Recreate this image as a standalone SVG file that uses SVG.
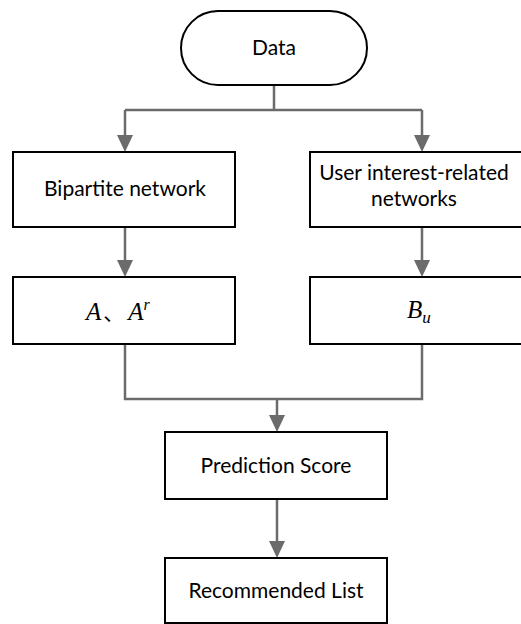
<svg xmlns="http://www.w3.org/2000/svg" width="521" height="624" viewBox="0 0 521 624">
<defs>
<style>
.box{fill:#fff;stroke:#000;stroke-width:2}
.lbl{font-family:Lato,"Liberation Sans",sans-serif;font-size:21px;fill:#000;text-anchor:middle}
.math{font-family:"Liberation Serif",serif;font-style:italic;font-size:25px;fill:#000}
.con{fill:none;stroke:#6b6b6b;stroke-width:2.5}
.arr{fill:#6b6b6b}
</style>
</defs>
<rect width="521" height="624" fill="#fff"/>
<g id="connectors">
<path class="con" d="M274,85 V110 M125,110 H422 M125,110 V136 M422,110 V136"/>
<path class="con" d="M125,227 V260 M422,227 V260"/>
<path class="con" d="M125,344 V399 H422 V344 M277,399 V416"/>
<path class="con" d="M277,499 V542"/>
<path class="arr" d="M117,135 L133,135 L125,152 z M414,135 L430,135 L422,152 z"/>
<path class="arr" d="M117,260 L133,260 L125,277 z M414,260 L430,260 L422,277 z"/>
<path class="arr" d="M269,415 L285,415 L277,432 z"/>
<path class="arr" d="M269,541 L285,541 L277,558 z"/>
</g>
<g id="data">
<rect class="box" x="181" y="11" width="186" height="74" rx="37" ry="37"/>
<text class="lbl" x="274" y="55">Data</text>
</g>
<g id="bipartite">
<rect class="box" x="13" y="152" width="222" height="75"/>
<text class="lbl" x="125" y="196">Bipartite network</text>
</g>
<g id="user-interest">
<rect class="box" x="310" y="152" width="222" height="75"/>
<text class="lbl" x="414" y="180">User interest-related</text>
<text class="lbl" x="414" y="206">networks</text>
</g>
<g id="a-ar">
<rect class="box" x="13" y="277" width="222" height="67"/>
<text class="math" x="86" y="320">A<tspan font-style="normal" font-family="'Noto Sans CJK SC',sans-serif" font-size="21" dx="2">、</tspan><tspan dx="4">A</tspan><tspan font-size="16" dy="-10">r</tspan></text>
</g>
<g id="bu">
<rect class="box" x="310" y="277" width="222" height="67"/>
<text class="math" x="407" y="318">B<tspan font-size="17" dy="5">u</tspan></text>
</g>
<g id="prediction">
<rect class="box" x="165" y="432" width="222" height="67"/>
<text class="lbl" x="276" y="473">Prediction Score</text>
</g>
<g id="recommended">
<rect class="box" x="165" y="558" width="222" height="65"/>
<text class="lbl" x="276" y="598">Recommended List</text>
</g>
</svg>
